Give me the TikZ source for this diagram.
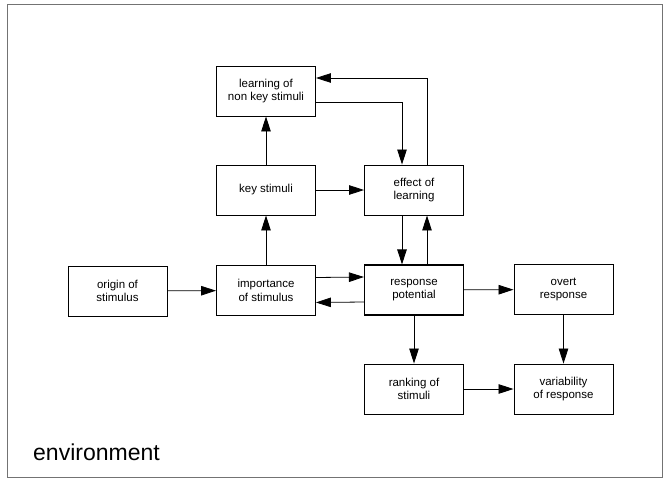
\documentclass[tikz,border=0pt]{standalone}
\usepackage{fontspec}
\setmainfont{Liberation Sans}
\usetikzlibrary{arrows.meta}
\begin{document}
\begin{tikzpicture}[x=1pt,y=-1pt,
  box/.style={draw=black,line width=0.9pt,minimum width=99pt,minimum height=50pt,
    align=center,inner sep=0pt,font=\fontsize{11.5}{13.5}\selectfont,text=black},
  arr/.style={draw=black,line width=0.8pt,-{Triangle[length=15pt,width=9.5pt]}}]
\useasboundingbox (0,0) rectangle (667,479);
\draw[black!55,line width=0.8pt] (7,4) rectangle (662,477.5);
\node[box] (learn) at (266,91) {learning of\\non key stimuli};
\node[box] (key) at (266,190) {key stimuli};
\node[box] (effect) at (414,190) {effect of\\learning};
\node[box] (origin) at (117.5,291) {origin of\\stimulus};
\node[box] (imp) at (266,290.5) {importance\\of stimulus};
\node[box,line width=1.1pt] (resp) at (414,290) {response\\potential};
\node[box] (overt) at (563.5,289.5) {overt\\response};
\node[box] (rank) at (414,389) {ranking of\\stimuli};
\node[box] (var) at (563.5,389) {variability\\of response};
\node[anchor=base west,inner sep=0pt,font=\fontsize{23}{26}\selectfont,text=black] (env) at (33,460) {environment};
\draw[arr] ([yshift=-11pt]learn.east) -| ([xshift=-12pt]effect.north);
\draw[arr] ([xshift=13pt]effect.north) |- ([yshift=13pt]learn.east);
\draw[arr] (key) -- (learn);
\draw[arr] (key) -- (effect);
\draw[arr] (imp) -- (key);
\draw[arr] (origin) -- (imp);
\draw[arr] ([yshift=13pt]imp.east) -- ([yshift=13pt]resp.west);
\draw[arr] ([yshift=-12pt]resp.west) -- ([yshift=-12pt]imp.east);
\draw[arr] ([xshift=-12pt]effect.south) -- ([xshift=-12pt]resp.north);
\draw[arr] ([xshift=13pt]resp.north) -- ([xshift=13pt]effect.south);
\draw[arr] (resp) -- (overt);
\draw[arr] (resp) -- (rank);
\draw[arr] (overt) -- (var);
\draw[arr] (rank) -- (var);
\end{tikzpicture}
\end{document}
